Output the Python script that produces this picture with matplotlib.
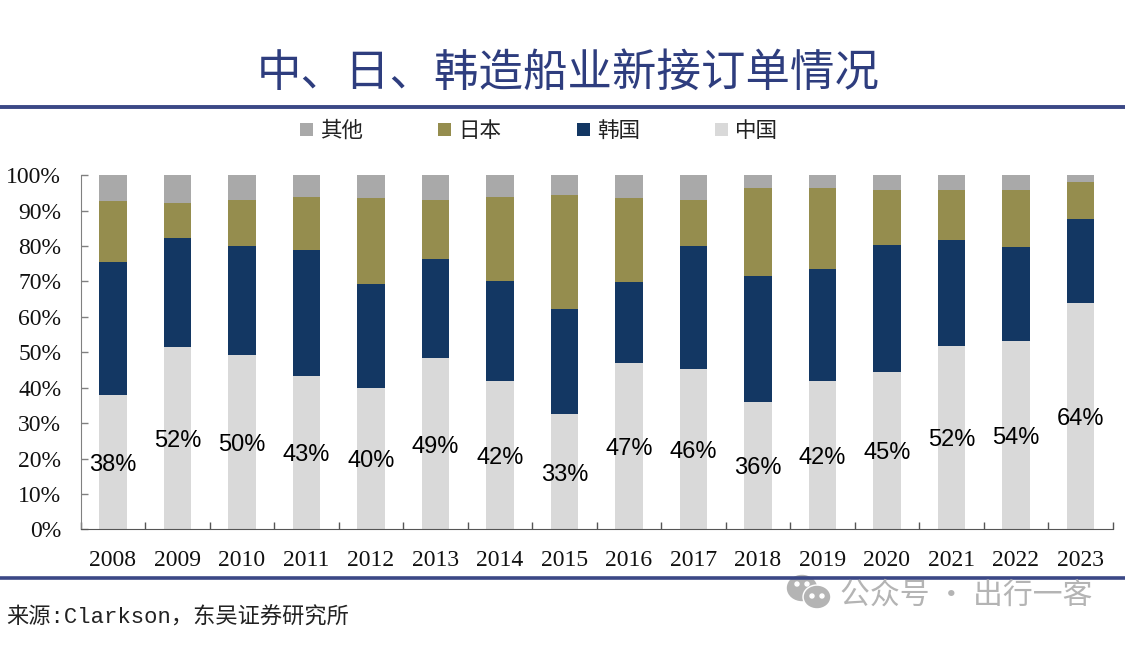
#!/usr/bin/env python3
import numpy as np
import matplotlib
matplotlib.use("Agg")
import matplotlib.pyplot as plt
from matplotlib.lines import Line2D
from matplotlib.patches import Ellipse

years = ["2008", "2009", "2010", "2011", "2012", "2013", "2014", "2015",
         "2016", "2017", "2018", "2019", "2020", "2021", "2022", "2023"]
china = [38.0, 51.5, 49.3, 43.3, 40.0, 48.3, 42.0, 32.5,
         47.0, 45.3, 36.0, 42.0, 44.5, 51.8, 53.3, 63.8]
korea = [37.5, 30.9, 30.8, 35.6, 29.3, 27.9, 28.0, 29.8,
         22.8, 34.7, 35.5, 31.5, 35.8, 29.8, 26.5, 23.8]
japan = [17.2, 9.8, 13.0, 15.0, 24.3, 16.8, 23.9, 32.0,
         23.8, 13.0, 25.0, 22.9, 15.5, 14.2, 16.0, 10.4]
other = [7.3, 7.8, 6.9, 6.1, 6.4, 7.0, 6.1, 5.7,
         6.4, 7.0, 3.5, 3.6, 4.2, 4.2, 4.2, 2.0]
china_labels = ["38%", "52%", "50%", "43%", "40%", "49%", "42%", "33%",
                "47%", "46%", "36%", "42%", "45%", "52%", "54%", "64%"]
y_ticks = [0, 10, 20, 30, 40, 50, 60, 70, 80, 90, 100]

CJK = ["Noto Sans CJK SC", "DejaVu Sans"]
NAVY = "#3b4886"

plt.rcParams["font.family"] = CJK

W, H = 1125, 657
fig = plt.figure(figsize=(W / 100, H / 100), dpi=100, facecolor="white")
ax = fig.add_axes([80.7 / W, (H - 529.4) / H, 1032 / W, 354.2 / H])

x = np.arange(len(years))
c = np.array(china)
k = np.array(korea)
j = np.array(japan)
o = np.array(other)
bw = 0.43
b_china = ax.bar(x, c, bw, color="#d9d9d9", label="中国")
b_korea = ax.bar(x, k, bw, bottom=c, color="#133763", label="韩国")
b_japan = ax.bar(x, j, bw, bottom=c + k, color="#958d4e", label="日本")
b_other = ax.bar(x, o, bw, bottom=c + k + j, color="#a9a9a9", label="其他")

ax.bar_label(b_china, labels=china_labels, label_type="center", padding=-2,
             fontsize=17, family="Liberation Sans", color="black")

ax.set_xlim(-0.5, len(years) - 0.5)
ax.set_ylim(0, 100)
ax.set_yticks(y_ticks)
ax.set_yticklabels([f"{v}%" for v in y_ticks], family="Liberation Serif",
                   fontsize=17, color="#111111")
ax.set_xticks(x)
ax.set_xticklabels(years, family="Liberation Serif", fontsize=17, color="#111111")
ax.set_xticks(np.arange(-0.5, len(years)), minor=True)
ax.tick_params(axis="x", which="major", length=0, pad=15)
ax.tick_params(axis="x", which="minor", direction="in", length=5,
               width=1, color="#555555")
ax.tick_params(axis="y", direction="in", length=5, width=1,
               color="#808080", pad=14)
ax.spines["top"].set_visible(False)
ax.spines["right"].set_visible(False)
ax.spines["left"].set_color("#808080")
ax.spines["bottom"].set_color("#555555")

fig.legend(handles=[b_other, b_japan, b_korea, b_china],
           labels=["其他", "日本", "韩国", "中国"], ncol=4,
           loc="center", bbox_to_anchor=(539 / W, (H - 131) / H),
           frameon=False, fontsize=15.5, labelcolor="#222222",
           handlelength=0.6, handleheight=0.6, handletextpad=0.33,
           columnspacing=3.5)

fig.text(568 / W, (H - 73) / H, "中、日、韩造船业新接订单情况", ha="center",
         va="center", fontsize=32, color="#2e3d7e")

fig.add_artist(Line2D([0, 1], [(H - 107) / H] * 2, color=NAVY, lw=2.8))
fig.add_artist(Line2D([0, 1], [(H - 578) / H] * 2, color=NAVY, lw=2.6))

fig.text(6 / W, (H - 618) / H, "来源:Clarkson，东吴证券研究所", ha="left",
         va="center", fontsize=16, color="#222222",
         family=["Liberation Mono", "Noto Sans CJK SC"])

# watermark
fig.add_artist(Ellipse((802 / W, (H - 588) / H), 29 / W, 25 / H, color="#b4b4b4"))
fig.add_artist(Ellipse((817 / W, (H - 597) / H), 28 / W, 24 / H, color="white"))
fig.add_artist(Ellipse((817 / W, (H - 597) / H), 25 / W, 21 / H, color="#b4b4b4"))
for ex, ey in [(797, 584), (807, 584), (812, 596), (822, 596)]:
    fig.add_artist(Ellipse((ex / W, (H - ey) / H), 4 / W, 4 / H, color="white"))
fig.text(840 / W, (H - 595) / H, "公众号 · 出行一客", ha="left", va="center",
         fontsize=21.5, color="#b4b4b4")

fig.savefig("out.png", dpi=100, facecolor="white")
